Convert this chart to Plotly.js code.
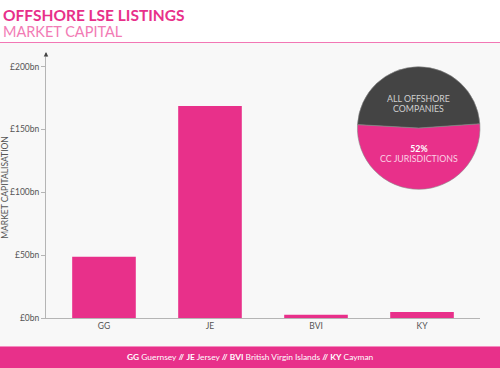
<!DOCTYPE html>
<html>
<head>
<meta charset="utf-8">
<script src="https://cdn.plot.ly/plotly-3.0.1.min.js"></script>
<style>
html,body{margin:0;padding:0;background:#ffffff;}
#chart{width:500px;height:368px;}
</style>
</head>
<body>
<div id="chart"></div>
<script>
// ---- data ----
const categories = ['GG', 'JE', 'BVI', 'KY'];
const marketCap = [48.7, 168.7, 2.6, 4.8];          // £bn
const yTickVals = [0, 50, 100, 150, 200];
const yTickText = ['£0bn', '£50bn', '£100bn', '£150bn', '£200bn'];
const pieLabels = ['CC jurisdictions', 'Other offshore'];
const pieValues = [52, 48];
const legendParts = [['GG', 'Guernsey'], ['JE', 'Jersey'], ['BVI', 'British Virgin Islands'], ['KY', 'Cayman']];

const PINK = '#e8308a';
const DARK = '#444444';
const FONT = 'Lato, "Open Sans", sans-serif';

// plot area geometry (pixels)
const W = 500, H = 368;
const mL = 46, mR = 20, mT = 57, mB = 50;
const pw = W - mL - mR, ph = H - mT - mB;
const px = x => (x - mL) / pw;
const py = y => (H - mB - y) / ph;

const barTrace = {
  type: 'bar',
  x: categories,
  y: marketCap,
  width: 0.6,
  marker: {color: PINK},
  hoverinfo: 'x+y',
  showlegend: false
};

const pcx = 418.7, pcy = 128, pr = 61.3;
const pieTrace = {
  type: 'pie',
  labels: pieLabels,
  values: pieValues,
  sort: false,
  direction: 'clockwise',
  rotation: 86,
  textinfo: 'none',
  hoverinfo: 'label+percent',
  marker: {colors: [PINK, DARK], line: {color: '#8a8a8a', width: 0.6}},
  domain: {x: [px(pcx - pr), px(pcx + pr)], y: [py(pcy + pr), py(pcy - pr)]},
  showlegend: false
};

const footerText = legendParts.map(p => '<b>' + p[0] + '</b> ' + p[1]).join(' <b>//</b> ');

function note(x, y, text, font, xanchor) {
  return {xref: 'paper', yref: 'paper', x: px(x), y: py(y), xanchor: xanchor || 'center', yanchor: 'middle',
          align: xanchor || 'center', text: text, showarrow: false, font: font};
}

const layout = {
  width: W, height: H,
  margin: {l: mL, r: mR, t: mT, b: mB, pad: 0},
  paper_bgcolor: '#f8f8f8',
  plot_bgcolor: 'rgba(0,0,0,0)',
  font: {family: FONT, color: '#555555', size: 8.5},
  showlegend: false,
  xaxis: {
    range: [-0.547, 3.547],
    showgrid: false, zeroline: false,
    showline: true, linecolor: '#b5b5b5', linewidth: 1,
    ticks: '', tickfont: {size: 8.5, color: '#555555', family: FONT},
    fixedrange: true
  },
  yaxis: {
    range: [0, 207.7],
    tickvals: yTickVals, ticktext: yTickText,
    showgrid: false, zeroline: false,
    showline: true, linecolor: '#b5b5b5', linewidth: 1,
    ticks: 'outside', ticklen: 4, tickcolor: '#b5b5b5',
    tickfont: {size: 8.5, color: '#555555', family: FONT},
    title: {text: 'MARKET CAPITALISATION', font: {size: 8.5, color: '#555555', family: FONT}, standoff: 4},
    fixedrange: true
  },
  shapes: [
    {type: 'rect', xref: 'paper', yref: 'paper', x0: px(0), x1: px(W), y0: py(42), y1: py(0),
     fillcolor: '#ffffff', line: {width: 0}, layer: 'below'},
    {type: 'line', xref: 'paper', yref: 'paper', x0: px(0), x1: px(W), y0: py(42.5), y1: py(42.5),
     line: {color: '#f277b5', width: 1.2}},
    {type: 'rect', xref: 'paper', yref: 'paper', x0: px(0), x1: px(W), y0: py(H), y1: py(346),
     fillcolor: PINK, line: {width: 0}, layer: 'below'},
    {type: 'line', xref: 'paper', yref: 'paper', x0: px(0), x1: px(W), y0: py(346.5), y1: py(346.5),
     line: {color: '#f48cc0', width: 1}}
  ],
  annotations: [
    note(1, 22.5,
      '<b><span style="font-size:15.5px">OFFSHORE LSE LISTINGS</span></b><br>' +
      '<span style="font-size:14.5px;color:#f27bb5">MARKET CAPITAL</span>',
      {family: FONT, size: 12, color: PINK}, 'left'),
    {xref: 'paper', yref: 'paper', x: 0, y: py(52), ax: 0, ay: 6, axref: 'pixel', ayref: 'pixel',
     text: '', showarrow: true, arrowhead: 2, arrowsize: 0.9, arrowwidth: 1, arrowcolor: '#444444'},
    note(pcx, 103.4, '<span style="font-size:8.8px">ALL OFFSHORE<br>COMPANIES</span>',
      {family: FONT, size: 7.5, color: '#cfcfcf'}),
    note(pcx, 153.8, '<span style="font-size:8.8px;color:#ffffff"><b>52%</b></span><br>' +
      '<span style="font-size:8.8px">CC JURISDICTIONS</span>',
      {family: FONT, size: 7.5, color: '#fbd0e4'}),
    note(250, 357.3, footerText, {family: FONT, size: 8.4, color: '#ffffff'})
  ]
};

Plotly.newPlot('chart', [barTrace, pieTrace], layout, {displayModeBar: false, staticPlot: true});
</script>
</body>
</html>
